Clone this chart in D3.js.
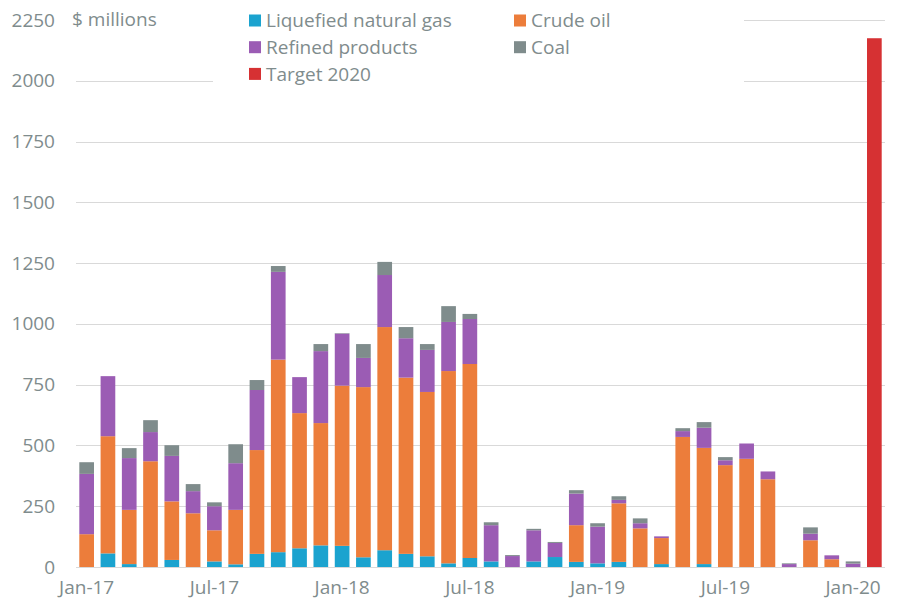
<!DOCTYPE html>
<html>
<head>
<meta charset="utf-8">
<script src="https://cdn.jsdelivr.net/npm/d3@7"></script>
<style>
  body { margin: 0; background: #fff; }
  text { font-family: "Open Sans", Lato, sans-serif; }
</style>
</head>
<body>
<div id="chart"></div>
<script>
// Monthly exports, $ millions
const months = [
  'Jan-17','Feb-17','Mar-17','Apr-17','May-17','Jun-17','Jul-17','Aug-17','Sep-17','Oct-17','Nov-17','Dec-17',
  'Jan-18','Feb-18','Mar-18','Apr-18','May-18','Jun-18','Jul-18','Aug-18','Sep-18','Oct-18','Nov-18','Dec-18',
  'Jan-19','Feb-19','Mar-19','Apr-19','May-19','Jun-19','Jul-19','Aug-19','Sep-19','Oct-19','Nov-19','Dec-19',
  'Jan-20'
];
const lng     = [0, 56, 12, 0, 29, 0, 23, 11, 54, 61, 77, 89, 87, 40, 69, 54, 44, 15, 37, 23, 0, 23, 41, 21, 15, 21, 0, 12, 0, 12, 0, 0, 0, 0, 0, 0, 0];
const crude   = [135, 482, 223, 435, 241, 221, 128, 224, 427, 792, 556, 503, 659, 700, 918, 725, 676, 791, 798, 0, 0, 0, 0, 151, 0, 241, 159, 107, 535, 478, 419, 445, 361, 0, 110, 32, 0];
const refined = [248, 247, 213, 120, 187, 91, 99, 192, 247, 361, 148, 296, 214, 120, 214, 162, 173, 202, 185, 149, 45, 128, 58, 130, 151, 14, 21, 7, 24, 83, 20, 63, 32, 12, 27, 16, 14];
const coal    = [48, 0, 41, 49, 44, 29, 16, 78, 41, 24, 0, 29, 2, 57, 54, 46, 24, 65, 21, 12, 4, 6, 4, 14, 14, 15, 20, 0, 12, 23, 13, 0, 0, 3, 26, 0, 9];
const target2020 = 2175;
const yTicks = [0, 250, 500, 750, 1000, 1250, 1500, 1750, 2000, 2250];
const xTickLabels = ['Jan-17', 'Jul-17', 'Jan-18', 'Jul-18', 'Jan-19', 'Jul-19', 'Jan-20'];

const seriesInfo = [
  { key: 'lng', name: 'Liquefied natural gas', color: '#1ba3cf' },
  { key: 'crude', name: 'Crude oil', color: '#ec7d3b' },
  { key: 'refined', name: 'Refined products', color: '#9b5cb4' },
  { key: 'coal', name: 'Coal', color: '#7f8c8c' }
];
const targetColor = '#d63133';

const width = 905, height = 608;
const margin = { top: 20, right: 20, bottom: 41, left: 76 };
const textColor = '#7f8c8d';
const gridColor = '#d9d9d9';
const fontSize = '19px';

const rows = months.map((m, i) => ({
  month: m, lng: lng[i], crude: crude[i], refined: refined[i], coal: coal[i]
}));
const categories = months.concat(['Target']);

const svg = d3.select('#chart').append('svg')
  .attr('width', width)
  .attr('height', height);

const x = d3.scaleBand()
  .domain(categories)
  .range([margin.left, width - margin.right])
  .paddingInner(0.31)
  .paddingOuter(0.155);

const y = d3.scaleLinear()
  .domain([0, 2250])
  .range([height - margin.bottom, margin.top]);

// Gridlines
svg.append('g')
  .selectAll('line')
  .data(yTicks)
  .join('line')
  .attr('x1', margin.left)
  .attr('x2', width - margin.right)
  .attr('y1', d => Math.round(y(d)) + 0.5)
  .attr('y2', d => Math.round(y(d)) + 0.5)
  .attr('stroke', gridColor)
  .attr('stroke-width', 1);

// Y axis labels
const yAxis = svg.append('g')
  .attr('transform', `translate(${margin.left - 21},0)`)
  .call(d3.axisLeft(y).tickValues(yTicks).tickFormat(d3.format('d')).tickSize(0).tickPadding(0));
yAxis.select('.domain').remove();
yAxis.selectAll('text')
  .attr('fill', textColor)
  .attr('font-size', fontSize);

// X axis labels
const xAxis = svg.append('g')
  .attr('transform', `translate(0,${height - margin.bottom})`)
  .call(d3.axisBottom(x).tickValues(xTickLabels).tickSize(0).tickPadding(14));
xAxis.select('.domain').remove();
xAxis.selectAll('text')
  .attr('fill', textColor)
  .attr('font-size', fontSize);

// Stacked bars
const stack = d3.stack().keys(seriesInfo.map(s => s.key));
const stacked = stack(rows);

svg.append('g')
  .selectAll('g')
  .data(stacked)
  .join('g')
  .attr('fill', (d, i) => seriesInfo[i].color)
  .selectAll('rect')
  .data(d => d.filter(p => p[1] - p[0] > 0))
  .join('rect')
  .attr('x', d => x(d.data.month))
  .attr('y', d => y(d[1]))
  .attr('width', x.bandwidth())
  .attr('height', d => y(d[0]) - y(d[1]));

// Target bar
svg.append('rect')
  .attr('x', x('Target'))
  .attr('y', y(target2020))
  .attr('width', x.bandwidth())
  .attr('height', y(0) - y(target2020))
  .attr('fill', targetColor);

// White boxes behind the unit label and legend (hide gridlines)
svg.append('rect')
  .attr('x', margin.left - 2).attr('y', 0)
  .attr('width', 140).attr('height', 32)
  .attr('fill', '#fff');
svg.append('rect')
  .attr('x', 213).attr('y', 0)
  .attr('width', 531).attr('height', 92)
  .attr('fill', '#fff');

svg.append('text')
  .attr('x', 72)
  .attr('y', y(2250))
  .attr('dy', '0.32em')
  .attr('fill', textColor)
  .attr('font-size', fontSize)
  .text('$ millions');

// Legend
const legendItems = [
  { name: seriesInfo[0].name, color: seriesInfo[0].color, col: 0, row: 0 },
  { name: seriesInfo[1].name, color: seriesInfo[1].color, col: 1, row: 0 },
  { name: seriesInfo[2].name, color: seriesInfo[2].color, col: 0, row: 1 },
  { name: seriesInfo[3].name, color: seriesInfo[3].color, col: 1, row: 1 },
  { name: 'Target 2020', color: targetColor, col: 0, row: 2 }
];
const legend = svg.append('g')
  .selectAll('g')
  .data(legendItems)
  .join('g')
  .attr('transform', d => `translate(${249 + d.col * 265},${20.5 + d.row * 26.7})`);
legend.append('rect')
  .attr('x', 0).attr('y', -6)
  .attr('width', 12).attr('height', 12)
  .attr('fill', d => d.color);
legend.append('text')
  .attr('x', 17)
  .attr('dy', '0.35em')
  .attr('fill', textColor)
  .attr('font-size', fontSize)
  .text(d => d.name);
</script>
</body>
</html>
